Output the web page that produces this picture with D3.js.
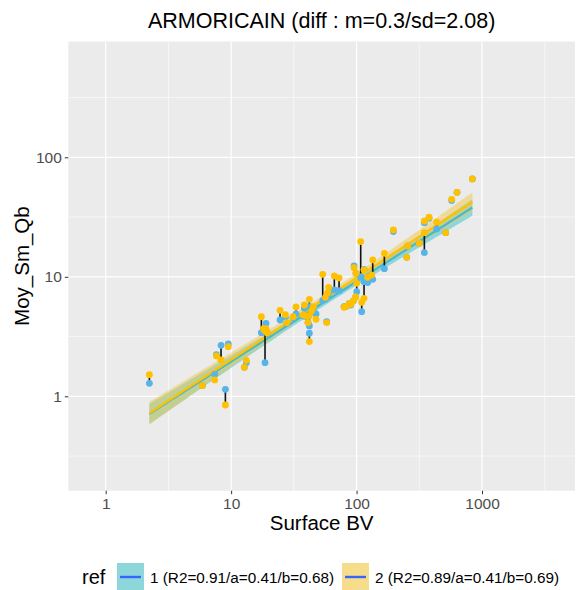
<!DOCTYPE html>
<html><head><meta charset="utf-8">
<script src="https://cdn.jsdelivr.net/npm/d3@7"></script>
<style>body{margin:0;background:#fff} text{font-family:"Liberation Sans",Arial,sans-serif}</style>
</head><body><svg id="c" width="577" height="590"></svg>
<script>
const title = "ARMORICAIN (diff : m=0.3/sd=2.08)";
const xTitle = "Surface BV";
const yTitle = "Moy_Sm_Qb";
const legendTitle = "ref";
const seriesLabels = ["1 (R2=0.91/a=0.41/b=0.68)", "2 (R2=0.89/a=0.41/b=0.69)"];
const xTicks = [1, 10, 100, 1000];
const yTicks = [1, 10, 100];
const xMinor = [Math.pow(10,0.5), Math.pow(10,1.5), Math.pow(10,2.5), Math.pow(10,3.5)];
const yMinor = [Math.pow(10,-0.5), Math.pow(10,0.5), Math.pow(10,1.5), Math.pow(10,2.5)];

// Surface BV per site
const surface = [2.23,5.90,7.40,7.63,8.31,9.00,9.50,12.75,13.22,17.42,18.07,18.97,18.63,19.45,24.54,27.06,27.73,31.15,32.92,38.36,37.66,40.05,42.04,41.03,42.04,42.04,43.88,47.53,45.24,53.7,56.4,58.9,59.97,57.8,66.5,72.5,79.5,82.4,87.6,89.8,94.3,98.4,100.3,99.0,95.5,107.9,114.7,109.9,114.7,122.7,134.5,132.0,166.6,196.5,255.7,251.0,316.7,347.1,347.1,378.2,435.5,513.6,573.3,632.4,837.9];
// ref 1 (blue)
const q1 = [1.285,1.228,1.528,2.232,2.672,1.144,2.742,1.748,1.913,3.41,3.59,4.08,1.91,3.37,4.35,4.58,4.08,4.58,4.89,5.45,4.70,4.64,5.63,4.14,3.88,3.37,5.11,4.89,5.45,6.32,6.48,6.82,7.28,4.22,7.76,7.66,5.63,5.63,6.0,5.81,6.28,6.78,7.51,10.70,12.32,10.03,11.55,5.11,9.11,8.94,9.53,10.03,11.70,23.88,18.11,14.56,19.07,15.93,28.4,30.9,25.1,23.4,43.4,50.9,65.9];
// ref 2 (yellow)
const q2 = [1.518,1.228,1.370,2.175,2.014,0.846,2.604,1.748,2.001,4.64,3.68,3.68,3.54,3.41,5.24,4.82,4.14,4.64,5.59,5.81,4.79,4.70,6.48,4.14,4.70,2.87,5.21,4.41,5.63,10.49,6.74,7.37,8.17,4.14,10.16,9.78,5.56,5.63,6.0,5.89,6.28,6.78,8.82,10.70,11.93,19.7,11.40,6.12,6.61,9.90,13.83,10.36,15.73,24.66,18.11,14.56,19.07,23.42,29.3,31.5,28.6,23.4,44.5,50.9,65.9];

const pointColors = ["#56B4E9", "#FFC000"];
const bandColors = ["#35C2C8", "#F2C84B"];
const keyFill = ["#8DD7DB", "#F6DD8B"];
const lineColors = ["#45B9CF", "#FFC000"];

const svg = d3.select("#c");
const P = {l: 68.3, t: 41.5, r: 575, b: 490.7};
const x = d3.scaleLog().domain([1, 1000]).range([105.7, 482]);
const y = d3.scaleLog().domain([1, 100]).range([396.3, 157.3]);

svg.append("defs").append("clipPath").attr("id","clip").append("rect")
  .attr("x",P.l).attr("y",P.t).attr("width",P.r-P.l).attr("height",P.b-P.t);

svg.append("rect").attr("x",P.l).attr("y",P.t).attr("width",P.r-P.l).attr("height",P.b-P.t).attr("fill","#EBEBEB");
const grid = svg.append("g").attr("clip-path","url(#clip)");
xMinor.forEach(v => grid.append("line").attr("x1",x(v)).attr("x2",x(v)).attr("y1",P.t).attr("y2",P.b).attr("stroke","#fff").attr("stroke-width",0.6));
yMinor.forEach(v => grid.append("line").attr("y1",y(v)).attr("y2",y(v)).attr("x1",P.l).attr("x2",P.r).attr("stroke","#fff").attr("stroke-width",0.6));
xTicks.forEach(v => grid.append("line").attr("x1",x(v)).attr("x2",x(v)).attr("y1",P.t).attr("y2",P.b).attr("stroke","#fff").attr("stroke-width",1.2));
yTicks.forEach(v => grid.append("line").attr("y1",y(v)).attr("y2",y(v)).attr("x1",P.l).attr("x2",P.r).attr("stroke","#fff").attr("stroke-width",1.2));

// axes
const xa = svg.append("g").attr("transform",`translate(0,${P.b})`)
  .call(d3.axisBottom(x).tickValues(xTicks).tickFormat(d3.format("d")).tickSize(3.5).tickPadding(4));
const ya = svg.append("g").attr("transform",`translate(${P.l},0)`)
  .call(d3.axisLeft(y).tickValues(yTicks).tickFormat(d3.format("d")).tickSize(3.5).tickPadding(3));
[xa, ya].forEach(a => {
  a.select(".domain").remove();
  a.selectAll(".tick line").attr("stroke","#333").attr("stroke-width",1);
  a.selectAll(".tick text").attr("fill","#4D4D4D").style("font-size","15.5px").style("font-family","Liberation Sans, Arial, sans-serif");
});

// regression (log10 space) with 95% CI, like geom_smooth(method="lm")
function fit(xs, ys) {
  const lx = xs.map(Math.log10), ly = ys.map(Math.log10);
  const n = lx.length, mx = d3.mean(lx), my = d3.mean(ly);
  let sxx = 0, sxy = 0;
  for (let i=0;i<n;i++){ sxx += (lx[i]-mx)**2; sxy += (lx[i]-mx)*(ly[i]-my); }
  const b = sxy/sxx, a = my - b*mx;
  let sse = 0; for (let i=0;i<n;i++) sse += (ly[i]-a-b*lx[i])**2;
  const s = Math.sqrt(sse/(n-2)), t = 1.998;
  const lo = d3.min(lx), hi = d3.max(lx);
  const pts = d3.range(0, 81).map(k => {
    const u = lo + (hi-lo)*k/80;
    const f = a + b*u, se = s*Math.sqrt(1/n + (u-mx)**2/sxx);
    return {x: Math.pow(10,u), y: Math.pow(10,f), lo: Math.pow(10,f - t*se), hi: Math.pow(10,f + t*se)};
  });
  return pts;
}
const fits = [fit(surface, q1), fit(surface, q2)];
const plot = svg.append("g").attr("clip-path","url(#clip)");
const area = d3.area().x(d=>x(d.x)).y0(d=>y(d.lo)).y1(d=>y(d.hi));
const line = d3.line().x(d=>x(d.x)).y(d=>y(d.y));
fits.forEach((f,i) => plot.append("path").attr("d",area(f)).attr("fill",bandColors[i]).attr("fill-opacity",0.5));
fits.forEach((f,i) => plot.append("path").attr("d",line(f)).attr("fill","none").attr("stroke",lineColors[i]).attr("stroke-width",2.2));

// segments
plot.selectAll("line.seg").data(surface).enter().append("line").attr("class","seg")
  .attr("x1",(d)=>x(d)).attr("x2",(d)=>x(d))
  .attr("y1",(d,i)=>y(q1[i])).attr("y2",(d,i)=>y(q2[i]))
  .attr("stroke","#111").attr("stroke-width",1.6);
// points
[q1, q2].forEach((q,k) => {
  plot.selectAll("circle.p"+k).data(surface).enter().append("circle").attr("class","p"+k)
    .attr("cx",d=>x(d)).attr("cy",(d,i)=>y(q[i])).attr("r",3.4).attr("fill",pointColors[k]);
});

// titles
svg.append("text").attr("x",(P.l+P.r)/2).attr("y",28).attr("text-anchor","middle").style("font-size","21.5px").attr("fill","#000").text(title);
svg.append("text").attr("x",(P.l+P.r)/2).attr("y",530).attr("text-anchor","middle").style("font-size","20.5px").attr("fill","#000").text(xTitle);
svg.append("text").attr("transform",`translate(29,${(P.t+P.b)/2}) rotate(-90)`).attr("text-anchor","middle").style("font-size","20.5px").attr("fill","#000").text(yTitle);

// legend
const lg = svg.append("g");
lg.append("text").attr("x",82).attr("y",584).style("font-size","20px").text(legendTitle);
const keyX = [117, 342], textX = [150, 375];
seriesLabels.forEach((lab,i) => {
  lg.append("rect").attr("x",keyX[i]).attr("y",563).attr("width",27).attr("height",27).attr("fill",keyFill[i]);
  lg.append("line").attr("x1",keyX[i]+3).attr("x2",keyX[i]+24).attr("y1",577).attr("y2",577).attr("stroke","#3366FF").attr("stroke-width",2.4);
  lg.append("text").attr("x",textX[i]).attr("y",583).style("font-size","15.3px").text(lab);
});
</script></body></html>
